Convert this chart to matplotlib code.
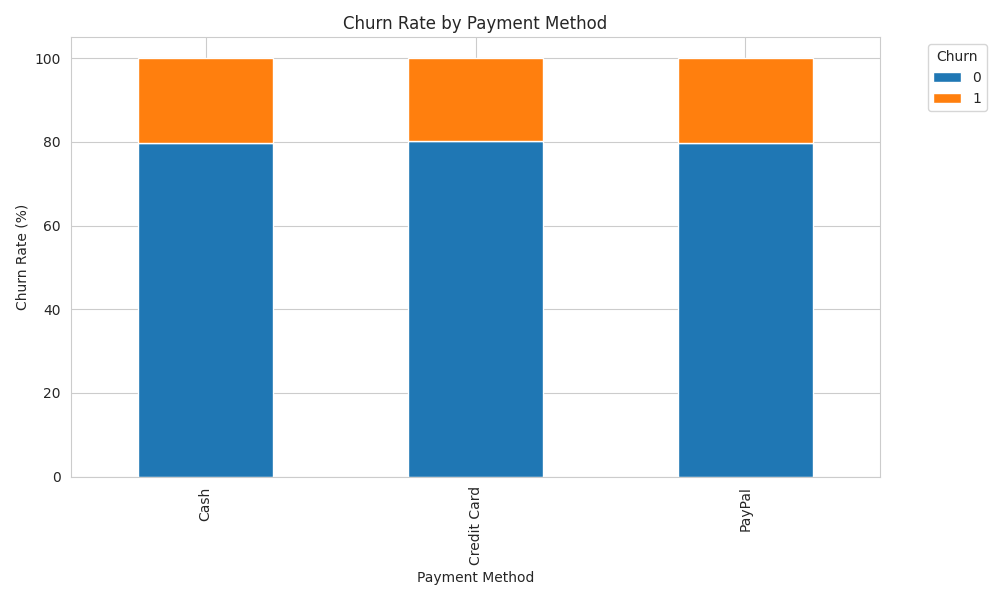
import pandas as pd
import matplotlib.pyplot as plt
import seaborn as sns

sns.set_style('whitegrid')

methods = ['Cash', 'Credit Card', 'PayPal']
churn_0 = [79.8, 80.3, 79.8]
churn_1 = [20.2, 19.7, 20.2]

df = pd.DataFrame({0: churn_0, 1: churn_1}, index=methods)
df.index.name = 'Payment Method'
df.columns.name = 'Churn'

fig, ax = plt.subplots(figsize=(10, 6))
df.plot(kind='bar', stacked=True, ax=ax, color=['#1f77b4', '#ff7f0e'])
ax.set_title('Churn Rate by Payment Method')
ax.set_xlabel('Payment Method')
ax.set_ylabel('Churn Rate (%)')
ax.legend(title='Churn', bbox_to_anchor=(1.05, 1), loc='upper left')
plt.tight_layout()
fig.savefig('out.png', dpi=100)
